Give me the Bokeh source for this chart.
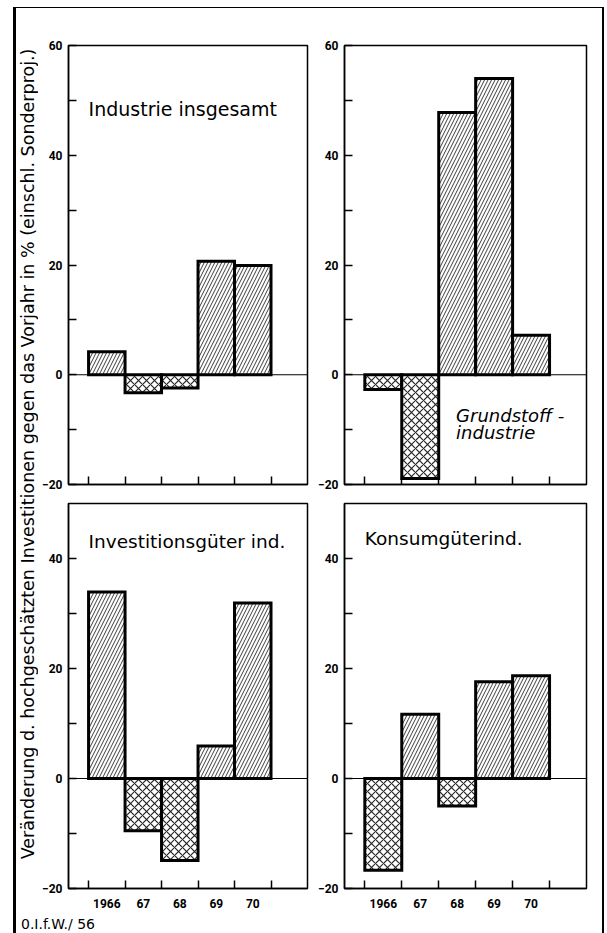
from math import pi
from bokeh.plotting import figure
from bokeh.models import ColumnDataSource, FixedTicker, Range1d, Span, Label, GridBox, Div
from bokeh.embed import file_html
from bokeh.resources import INLINE

# ---------------- data ----------------
years = ["1966", "67", "68", "69", "70"]
industrie_insgesamt = [4.2, -3.3, -2.4, 20.7, 19.9]
grundstoffindustrie = [-2.7, -18.9, 47.8, 54.0, 7.2]
investitionsgueter = [33.9, -9.5, -14.9, 5.9, 31.9]
konsumgueter = [-16.7, 11.7, -5.0, 17.6, 18.7]

title_industrie = ["Industrie insgesamt"]
title_grundstoff = ["Grundstoff -", "industrie"]
title_investition = ["Investitionsgüter ind."]
title_konsum = ["Konsumgüterind."]

y_label = "Veränderung d. hochgeschätzten Investitionen gegen das Vorjahr in % (einschl. Sonderproj.)"
source_note = "0.I.f.W./ 56"

top_ticks = [-20, 0, 20, 40, 60]
top_minor = [-10, 10, 30, 50]
bottom_ticks = [-20, 0, 20, 40]
bottom_minor = [-10, 10, 30]

FONT = "DejaVu Sans"
TICK_FONT = "Roboto"


def panel(values, yrange, ticks, minor, width, height, bl, br, bt, bb,
          show_years, title_lines, title_x, title_y, title_italic=False, title_size="18.5px"):
    p = figure(width=width, height=height,
               x_range=Range1d(-1.05, len(years) + 0.5), y_range=Range1d(*yrange),
               output_backend="svg", toolbar_location=None,
               min_border_left=bl, min_border_right=br, min_border_top=bt, min_border_bottom=bb)
    p.grid.visible = False
    p.outline_line_color = "black"
    p.outline_line_width = 1.5
    p.background_fill_color = "white"
    p.border_fill_color = "white"

    edges = [i - 0.5 for i in range(len(years) + 1)]
    src = ColumnDataSource(dict(
        x=list(range(len(years))),
        top=values,
        hatch=["/" if v >= 0 else "x" for v in values],
        hscale=[7 if v >= 0 else 8 for v in values],
        hweight=[0.9 if v >= 0 else 1.2 for v in values],
    ))
    p.add_layout(Span(location=0, dimension="width", line_color="black", line_width=1.2))
    p.vbar(x="x", top="top", bottom=0, width=1.0, source=src,
           fill_color="white", line_color="black", line_width=3, line_join="miter",
           hatch_pattern="hatch", hatch_scale="hscale", hatch_color="#1a1a1a",
           hatch_weight="hweight", hatch_alpha=0.95)

    ya = p.yaxis[0]
    ya.ticker = FixedTicker(ticks=ticks, minor_ticks=minor)
    ya.major_tick_in = 8
    ya.major_tick_out = 0
    ya.minor_tick_in = 8
    ya.minor_tick_out = 0
    ya.major_tick_line_width = 1.5
    ya.minor_tick_line_width = 1.5
    ya.axis_line_width = 1.5
    ya.major_label_standoff = 6
    ya.major_label_text_font = TICK_FONT
    ya.major_label_text_font_style = "bold"
    ya.major_label_text_font_size = "12px"
    ya.major_label_text_color = "black"

    xa = p.xaxis[0]
    if show_years:
        xa.ticker = FixedTicker(ticks=list(range(len(years))), minor_ticks=edges)
        xa.major_label_overrides = {i: y for i, y in enumerate(years)}
    else:
        xa.ticker = FixedTicker(ticks=[], minor_ticks=edges)
    xa.major_tick_in = 0
    xa.major_tick_out = 0
    xa.minor_tick_in = 8
    xa.minor_tick_out = 0
    xa.minor_tick_line_width = 1.5
    xa.axis_line_width = 1.5
    xa.major_label_standoff = 10
    xa.major_label_text_font = TICK_FONT
    xa.major_label_text_font_style = "bold"
    xa.major_label_text_font_size = "12px"
    xa.major_label_text_color = "black"

    for k, line in enumerate(title_lines):
        p.add_layout(Label(x=title_x, y=title_y - k * 3.0, text=line,
                           text_font=FONT, text_font_size=title_size,
                           text_font_style="italic" if title_italic else "normal",
                           text_baseline="middle", text_align="left", text_color="black"))
    return p


ROW1_H = 487
ROW2_H = 417

p1 = panel(industrie_insgesamt, (-20, 60), top_ticks, top_minor, 273, ROW1_H, 30, 4, 37, 11,
           False, title_industrie, -0.5, 48.5, title_size="19px")
p2 = panel(grundstoffindustrie, (-20, 60), top_ticks, top_minor, 291, ROW1_H, 33, 16, 37, 11,
           False, title_grundstoff, 1.97, -7.5, title_italic=True, title_size="18px")
p3 = panel(investitionsgueter, (-20, 50), bottom_ticks, bottom_minor, 273, ROW2_H, 30, 4, 8, 24,
           True, title_investition, -0.5, 43.1)
p4 = panel(konsumgueter, (-20, 50), bottom_ticks, bottom_minor, 291, ROW2_H, 33, 16, 8, 24,
           True, title_konsum, -0.5, 43.6)

# narrow left column carrying the rotated common axis label (spans both rows)
LBL_W = 22
LBL_H = ROW1_H + ROW2_H
p0 = figure(width=LBL_W, height=LBL_H, x_range=Range1d(0, LBL_W), y_range=Range1d(0, LBL_H),
            x_axis_type=None, y_axis_type=None, output_backend="svg", toolbar_location=None,
            min_border=0, outline_line_color=None)
p0.grid.visible = False
p0.background_fill_color = "white"
p0.border_fill_color = "white"
p0.add_layout(Label(x=11.5, y=466, text=y_label,
                    angle=pi / 2, text_align="center", text_baseline="middle",
                    text_font=FONT, text_font_size="17.5px", text_color="black"))

note = Div(text=source_note, width=200, height=15,
           styles={"font-family": "DejaVu Sans", "font-size": "14px", "line-height": "15px",
                   "text-decoration": "underline", "color": "black", "white-space": "pre"})

layout = GridBox(children=[(p0, 0, 0, 2, 1), (p1, 0, 1), (p2, 0, 2), (p3, 1, 1), (p4, 1, 2),
                           (note, 2, 0, 1, 3)],
                 styles={"margin-left": "13px", "margin-top": "7px",
                         "border-left": "3px solid black", "border-right": "2px solid black",
                         "border-top": "1px solid black", "border-bottom": "1px solid black"})

open("out.html", "w").write(file_html(layout, INLINE))
